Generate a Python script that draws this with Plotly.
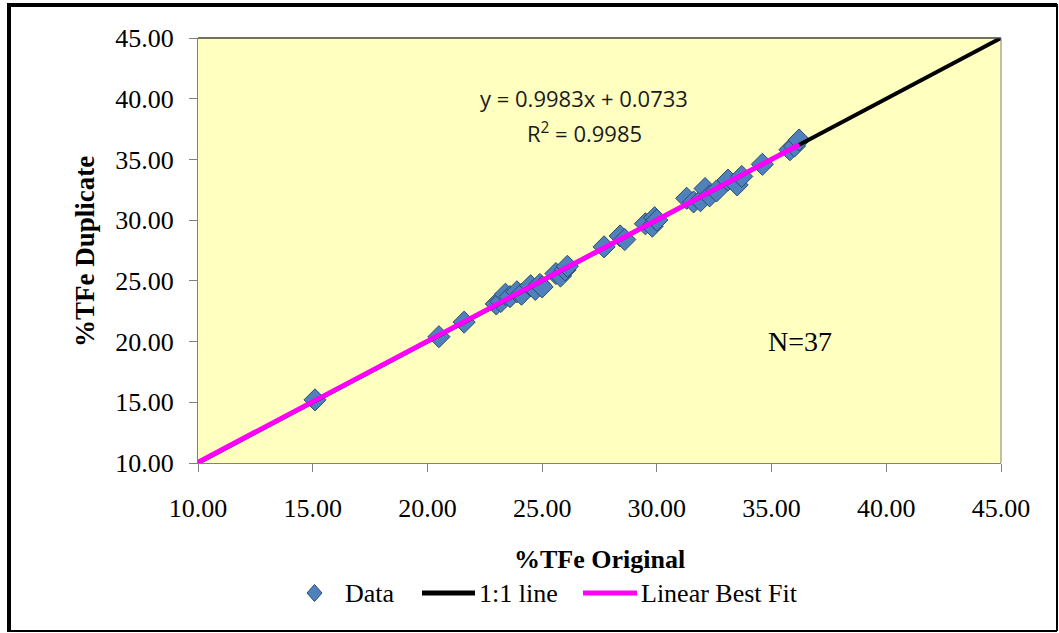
import plotly.graph_objects as go

# Original vs duplicate %TFe assays
tfe_original = [15.1, 20.5, 21.6, 23.0, 23.2, 23.4, 23.6, 23.9, 24.1, 24.5, 24.7, 24.9,
                25.0, 25.6, 25.8, 26.0, 26.1, 27.7, 28.4, 28.6, 29.5, 29.8, 29.9, 30.0,
                31.3, 31.6, 31.9, 32.1, 32.3, 32.6, 33.1, 33.5, 33.7, 34.6, 35.8, 36.0, 36.2]
tfe_duplicate = [15.2, 20.4, 21.6, 23.1, 23.3, 23.9, 23.7, 24.1, 23.9, 24.6, 24.3, 24.7,
                 24.5, 25.6, 25.4, 25.9, 26.2, 27.8, 28.7, 28.4, 29.7, 29.5, 30.2, 30.0,
                 31.8, 31.5, 31.6, 32.6, 32.0, 32.4, 33.3, 32.9, 33.6, 34.6, 35.8, 36.1, 36.6]

one_to_one_x = [10.0, 45.0]
fit_slope = 0.9983
fit_intercept = 0.0733
fit_x = [10.0, 36.2]
fit_y = [fit_slope * v + fit_intercept for v in fit_x]

tick_vals = [10, 15, 20, 25, 30, 35, 40, 45]
tick_text = ["10.00", "15.00", "20.00", "25.00", "30.00", "35.00", "40.00", "45.00"]

W, H = 1059, 633
ML, MR, MT, MB = 198, 58, 38, 170
PW, PH = W - ML - MR, H - MT - MB

serif = "Liberation Serif, Times New Roman, serif"
sans = "Open Sans, Liberation Sans, sans-serif"
marker_blue = "#4F81BD"
marker_edge = "#2B4A6F"


def px(x):
    """Horizontal pixel -> paper fraction."""
    return (x - ML) / PW


def py(y):
    """Vertical pixel (from top) -> paper fraction."""
    return (H - MB - y) / PH


def label(x, y, text, font, xanchor="center", **kw):
    return dict(x=px(x), y=py(y), xref="paper", yref="paper", showarrow=False,
                xanchor=xanchor, yanchor="middle", text=text, font=font, **kw)


fig = go.Figure()
fig.add_trace(go.Scatter(
    x=tfe_original, y=tfe_duplicate, mode="markers", name="Data", showlegend=False,
    marker=dict(symbol="diamond", size=17, color=marker_blue,
                line=dict(color=marker_edge, width=1)),
))
fig.add_trace(go.Scatter(
    x=one_to_one_x, y=one_to_one_x, mode="lines", name="1:1 line", showlegend=False,
    line=dict(color="black", width=4),
))
fig.add_trace(go.Scatter(
    x=fit_x, y=fit_y, mode="lines", name="Linear Best Fit", showlegend=False,
    line=dict(color="#FF00FF", width=5),
))

axis_common = dict(
    range=[10, 45], tickvals=tick_vals, ticktext=tick_text,
    showgrid=False, zeroline=False, ticks="outside", ticklen=8,
    tickcolor="#808080", showline=True, linecolor="#808080", linewidth=1,
    tickfont=dict(family=serif, size=26, color="black"), mirror=False,
)

eq_font = dict(family=sans, size=22, color="#1a1a1a")
leg_font = dict(family=serif, size=26, color="black")
title_font = dict(family=serif, size=26, color="black")

annotations = [
    # trendline equation
    label(584, 98, "y = 0.9983x + 0.0733", eq_font),
    label(584, 132, "R<sup>2</sup> = 0.9985", eq_font),
    label(800, 341, "N=37", dict(family=serif, size=28, color="black")),
    # axis titles
    label(599, 559, "<b>%TFe Original</b>", title_font),
    label(85, 252, "<b>%TFe Duplicate</b>", dict(family=serif, size=27, color="black"),
          textangle=-90),
    # legend labels
    label(343, 593, "Data", leg_font, xanchor="left"),
    label(477, 593, "1:1 line", leg_font, xanchor="left"),
    label(639, 593, "Linear Best Fit", leg_font, xanchor="left"),
]

shapes = [
    dict(type="line", xref="paper", yref="paper", x0=0, x1=1, y0=1, y1=1,
         line=dict(color="#404040", width=1.5)),
    dict(type="line", xref="paper", yref="paper", x0=1, x1=1, y0=0, y1=1,
         line=dict(color="#808080", width=1)),
    # legend symbols
    dict(type="path", xref="paper", yref="paper",
         path=(f"M {px(314.5)},{py(584.5)} L {px(322)},{py(593)} "
               f"L {px(314.5)},{py(601.5)} L {px(307)},{py(593)} Z"),
         fillcolor=marker_blue, line=dict(color=marker_edge, width=1)),
    dict(type="line", xref="paper", yref="paper", x0=px(422), x1=px(475),
         y0=py(593), y1=py(593), line=dict(color="black", width=5)),
    dict(type="line", xref="paper", yref="paper", x0=px(583), x1=px(637),
         y0=py(593), y1=py(593), line=dict(color="#FF00FF", width=5)),
    # outer chart frame
    dict(type="line", xref="paper", yref="paper", x0=px(9), x1=px(9), y0=py(631), y1=py(4),
         line=dict(color="black", width=4)),
    dict(type="line", xref="paper", yref="paper", x0=px(7), x1=px(1057), y0=py(5), y1=py(5),
         line=dict(color="black", width=4)),
    dict(type="line", xref="paper", yref="paper", x0=px(7), x1=px(1057), y0=py(631), y1=py(631),
         line=dict(color="black", width=2)),
    dict(type="line", xref="paper", yref="paper", x0=px(1057), x1=px(1057), y0=py(631), y1=py(4),
         line=dict(color="black", width=2)),
]

fig.update_layout(
    width=W, height=H,
    margin=dict(l=ML, r=MR, t=MT, b=MB),
    paper_bgcolor="white", plot_bgcolor="#FFFFC0",
    showlegend=False,
    xaxis=dict(**axis_common, ticklabelstandoff=14),
    yaxis=dict(**axis_common, ticklabelstandoff=10),
    annotations=annotations,
    shapes=shapes,
)

fig.write_html("out.html")
